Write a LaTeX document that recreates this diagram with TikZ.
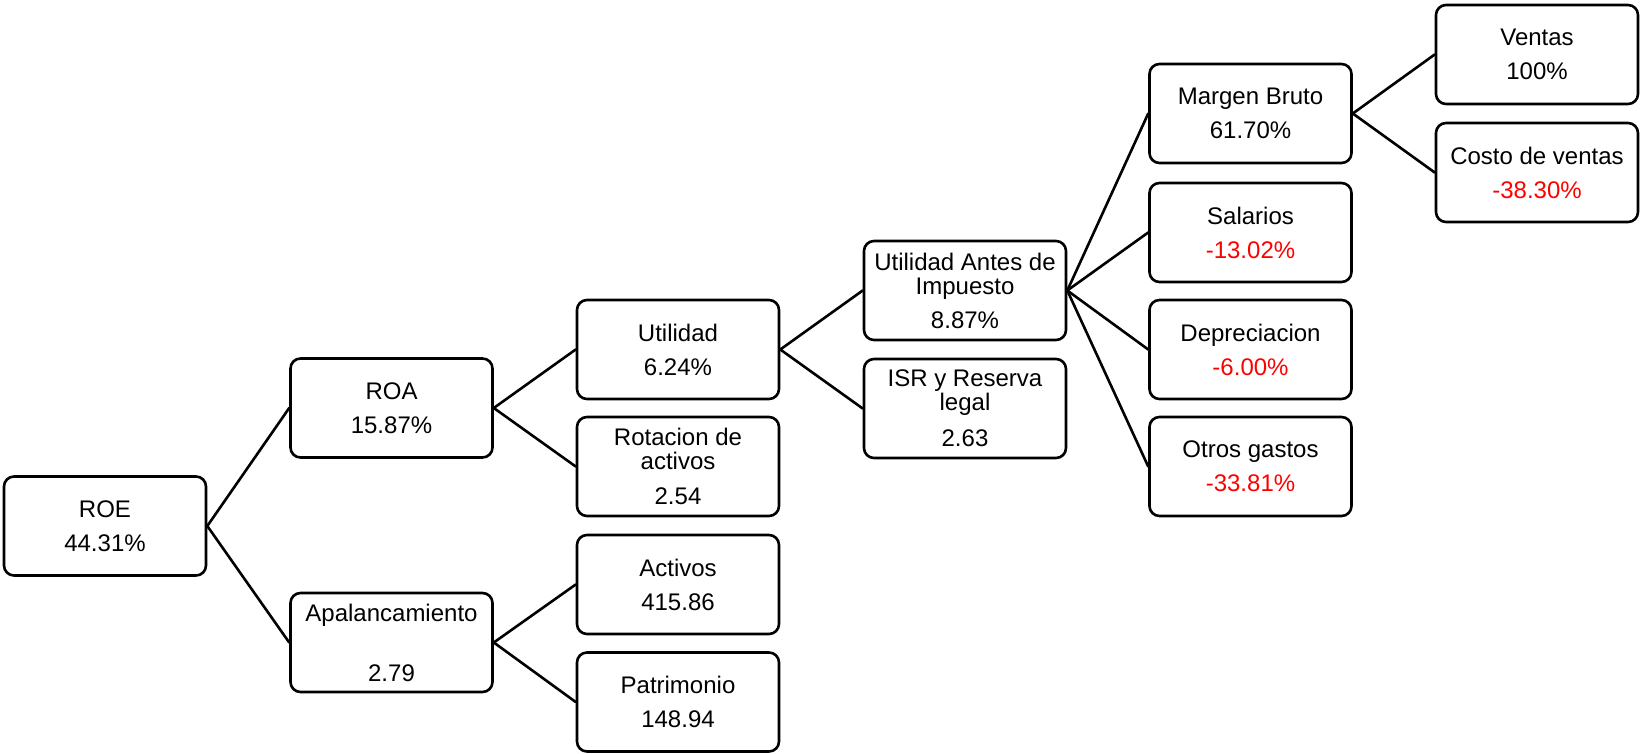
\documentclass[tikz,border=0pt]{standalone}
\usepackage{fontspec}
\setmainfont{Liberation Sans}
\begin{document}
\begin{tikzpicture}[x=1pt,y=-1pt,
  box/.style={draw=black, line width=2.6pt, rounded corners=10pt,
    minimum width=202pt, minimum height=99pt, align=center,
    font=\fontsize{24}{24}\selectfont, inner sep=0pt, fill=white},
  link/.style={line width=2.6pt, line cap=round},
  neg/.style={text=red}]
\useasboundingbox (0,0) rectangle (1641,754);

% first level
\node[box] (roe)  at (105,526)    {ROE\\[10pt]44.31\%};
% second level
\node[box] (roa)  at (391.5,408)  {ROA\\[10pt]15.87\%};
\node[box] (apal) at (391.5,642.5){Apalancamiento\\[36pt]2.79};
% third level
\node[box] (util) at (678,349.5)  {Utilidad\\[10pt]6.24\%};
\node[box] (rot)  at (678,466.5)  {Rotacion de\\activos\\[11pt]2.54};
\node[box] (act)  at (678,584.5)  {Activos\\[10pt]415.86};
\node[box] (pat)  at (678,702)    {Patrimonio\\[10pt]148.94};
% fourth level
\node[box] (uai)  at (965,290.5)  {Utilidad Antes de\\Impuesto\\[10pt]8.87\%};
\node[box] (isr)  at (965,408.5)  {ISR y Reserva\\legal\\[12pt]2.63};
% fifth level
\node[box] (mb)   at (1250.5,113.5) {Margen Bruto\\[10pt]61.70\%};
\node[box] (sal)  at (1250.5,232.5) {Salarios\\[10pt]\textcolor{red}{-13.02\%}};
\node[box] (dep)  at (1250.5,349.5) {Depreciacion\\[10pt]\textcolor{red}{-6.00\%}};
\node[box] (otr)  at (1250.5,466.5) {Otros gastos\\[10pt]\textcolor{red}{-33.81\%}};
% sixth level
\node[box] (ven)  at (1537,54.5)  {Ventas\\[10pt]100\%};
\node[box] (cos)  at (1537,172.5) {Costo de ventas\\[10pt]\textcolor{red}{-38.30\%}};

% connectors
\draw[link] (roe.east) -- (roa.west);
\draw[link] (roe.east) -- (apal.west);
\draw[link] (roa.east) -- (util.west);
\draw[link] (roa.east) -- (rot.west);
\draw[link] (apal.east) -- (act.west);
\draw[link] (apal.east) -- (pat.west);
\draw[link] (util.east) -- (uai.west);
\draw[link] (util.east) -- (isr.west);
\draw[link] (uai.east) -- (mb.west);
\draw[link] (uai.east) -- (sal.west);
\draw[link] (uai.east) -- (dep.west);
\draw[link] (uai.east) -- (otr.west);
\draw[link] (mb.east) -- (ven.west);
\draw[link] (mb.east) -- (cos.west);
\end{tikzpicture}
\end{document}
